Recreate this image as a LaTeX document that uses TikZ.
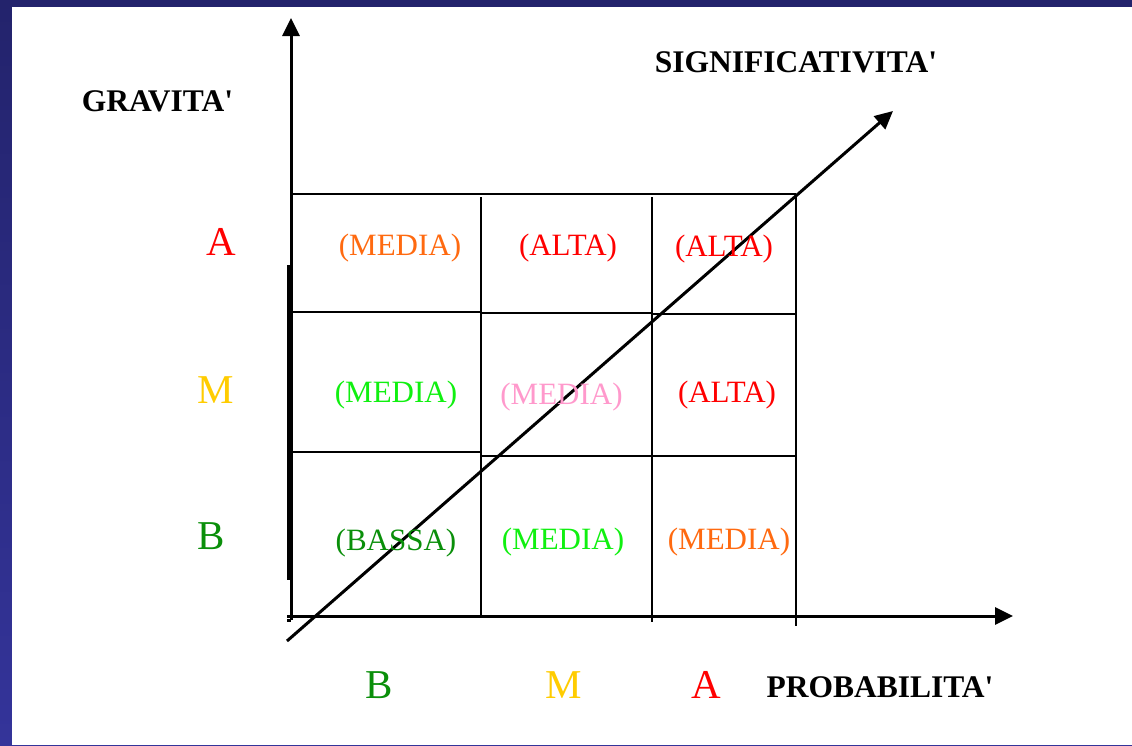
\documentclass[tikz,border=0pt]{standalone}
\usepackage{fontspec}
\setmainfont{Liberation Serif}
\usetikzlibrary{arrows.meta}
\definecolor{bordtop}{HTML}{23236C}
\definecolor{bordbot}{HTML}{34349A}
\definecolor{cOrange}{HTML}{FF6A10}
\definecolor{cRed}{HTML}{FF0000}
\definecolor{cLime}{HTML}{10F010}
\definecolor{cPink}{HTML}{FF99CC}
\definecolor{cGreen}{HTML}{0A8F0A}
\definecolor{cGold}{HTML}{FFCC00}
\begin{document}
\begin{tikzpicture}[x=1pt,y=-1pt,
  ax/.style={line width=3pt,-{Triangle[length=18pt,width=17pt]}},
  gridline/.style={line width=1.6pt},
  cell/.style={inner sep=0pt,font=\fontsize{31}{31}\selectfont},
  lbl/.style={inner sep=0pt,font=\bfseries\fontsize{31.5}{31.5}\selectfont},
  big/.style={inner sep=0pt,font=\fontsize{41}{41}\selectfont}]
\useasboundingbox (0,0) rectangle (1132,745);
\shade[top color=bordtop,bottom color=bordbot] (0,0) rectangle (1132,745);
\fill[white] (12,7) rectangle (1132,745);

% grid
\draw[gridline] (291,194) -- (796,194);
\draw[gridline] (291,312) -- (481,312) -- (481,313) -- (652,313) -- (652,314) -- (796,314);
\draw[gridline] (291,452) -- (481,452);
\draw[gridline] (481,456) -- (796,456);
\draw[gridline] (481,197) -- (481,616);
\draw[gridline] (652,197) -- (652,622);
\draw[gridline] (796,194) -- (796,626);
\draw[line width=6pt] (290,265) -- (290,580);

% axes
\coordinate (vo) at (291,620);
\coordinate (vt) at (291,18);
\coordinate (ho) at (287,616);
\coordinate (ht) at (1013,616);
\coordinate (do) at (287,641);
\coordinate (dt) at (893,111);
\draw[ax] (vo) -- (vt);
\draw[ax] (ho) -- (ht);
\draw[line width=3pt] (287,620) -- (vo);
\draw[ax] (do) -- (dt);

% axis labels
\node[lbl] (grav) at (157.5,101) {GRAVITA\textquotesingle};
\node[lbl] (sign) at (796,62) {SIGNIFICATIVITA\textquotesingle};
\node[lbl] (prob) at (880,687) {PROBABILITA\textquotesingle};

% level letters
\node[big,text=cRed] (gA) at (221,242) {A};
\node[big,text=cGold] (gM) at (215.5,390) {M};
\node[big,text=cGreen] (gB) at (211.5,536) {B};
\node[big,text=cGreen] (pB) at (379,685) {B};
\node[big,text=cGold] (pM) at (564,685) {M};
\node[big,text=cRed] (pA) at (706.5,685) {A};

% cells
\node[cell,text=cOrange] (c13) at (400,248) {(MEDIA)};
\node[cell,text=cRed] (c23) at (568,248) {(ALTA)};
\node[cell,text=cRed] (c33) at (724,249) {(ALTA)};
\node[cell,text=cLime] (c12) at (396,395) {(MEDIA)};
\node[cell,text=cPink] (c22) at (561.5,397) {(MEDIA)};
\node[cell,text=cRed] (c32) at (727,395) {(ALTA)};
\node[cell,text=cGreen] (c11) at (396,543) {(BASSA)};
\node[cell,text=cLime] (c21) at (563,542) {(MEDIA)};
\node[cell,text=cOrange] (c31) at (729,542) {(MEDIA)};
\end{tikzpicture}
\end{document}
